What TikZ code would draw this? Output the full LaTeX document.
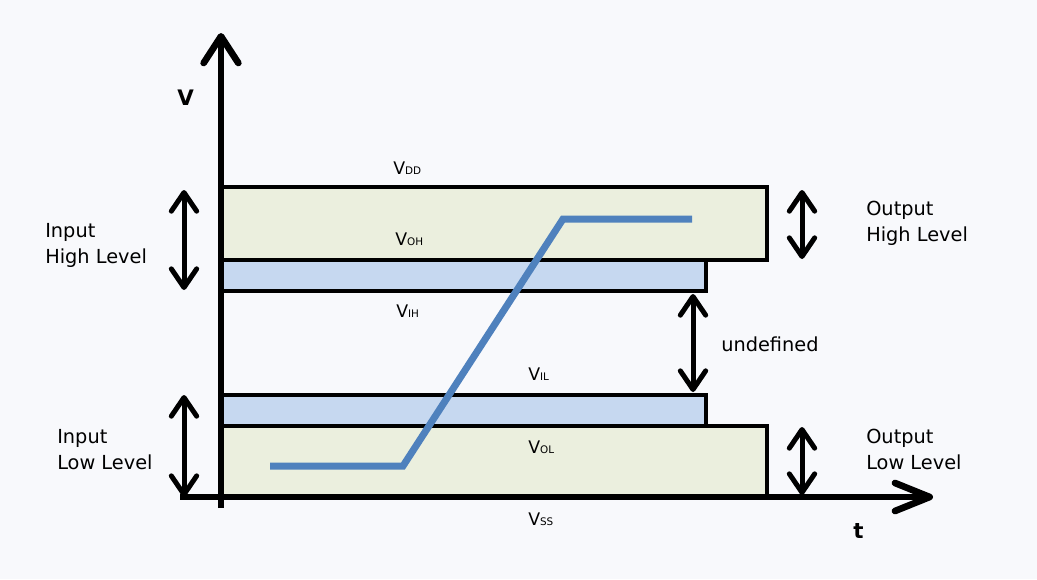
\documentclass[tikz,border=0pt]{standalone}
\usepackage{fontspec}
\setmainfont{DejaVu Sans}
\usetikzlibrary{arrows.meta}
\definecolor{bgcol}{HTML}{F8F9FC}
\definecolor{outband}{HTML}{EBEFDE}
\definecolor{inband}{HTML}{C6D8F0}
\definecolor{signal}{HTML}{4F81BD}
\tikzstyle{axis}=[line width=5pt]
\tikzstyle{band}=[draw=black,line width=2.5pt]
\tikzstyle{levelspan}=[{Straight Barb[length=14pt,width=19pt,round]}-{Straight Barb[length=14pt,width=19pt,round]},line width=3.75pt]
\tikzstyle{levelname}=[inner sep=0pt,font=\fontsize{14.5}{19.5}\selectfont,align=left]
\tikzstyle{voltage}=[anchor=base west,inner sep=0pt]
\tikzstyle{axislabel}=[anchor=base west,inner sep=0pt,font=\fontsize{16}{18}\selectfont\bfseries]
\newcommand{\volt}[1]{{\fontsize{13}{15}\selectfont V}{\fontsize{7.8}{9}\selectfont #1}}
\newcommand{\drawband}[4]{
  \pgfmathsetmacro{\bandtop}{#2}
  \pgfmathsetmacro{\bandbot}{#3}
  \pgfmathsetmacro{\bandright}{#4}
  \filldraw[band,fill=#1] (221,\bandtop) rectangle (\bandright,\bandbot);
}

\begin{document}
\begin{tikzpicture}[x=0.75pt,y=-0.75pt]
  \fill[bgcol] (0,0) rectangle (1037,579);
  \useasboundingbox (0,0) rectangle (1037,579);
  % bands
  \drawband{outband}{187}{260}{767}
  \drawband{inband}{260}{291}{706}
  \drawband{inband}{395}{426}{706}
  \drawband{outband}{426}{497}{767}
  % axes
  \coordinate (vbottom) at (221,508);
  \coordinate (vtop) at (221,33);
  \coordinate (tleft) at (180,497);
  \coordinate (tright) at (933,497);
  \draw[axis,-{Straight Barb[length=20pt,width=26pt,round]}] (vbottom) -- (vtop);
  \draw[axis,-{Straight Barb[length=26pt,width=21pt,round]}] (tleft) -- (tright);
  % signal
  \draw[signal,line width=5.25pt] (270,466) -- (403,466) -- (563,219) -- (692,219);
  % spans
  \coordinate (ih1) at (184,190); \coordinate (ih2) at (184,290);
  \coordinate (il1) at (184,395); \coordinate (il2) at (184,497);
  \coordinate (oh1) at (802,190); \coordinate (oh2) at (802,259);
  \coordinate (ol1) at (802,427); \coordinate (ol2) at (802,495);
  \coordinate (un1) at (693,294); \coordinate (un2) at (693,392);
  \foreach \s in {ih,il,oh,ol,un}
    \draw[levelspan] (\s1) -- (\s2);
  % labels
  \node[levelname,anchor=west] (inhigh) at (45,245) {Input\\High Level};
  \node[levelname,anchor=west] (inlow) at (57,450) {Input\\Low Level};
  \node[levelname,anchor=west] (outhigh) at (866,223) {Output\\High Level};
  \node[levelname,anchor=west] (outlow) at (866,449) {Output\\Low Level};
  \node[levelname,anchor=base west] (undef) at (721,351) {undefined};
  \node[voltage] (vdd) at (393,174) {\volt{DD}};
  \node[voltage] (voh) at (395,245) {\volt{OH}};
  \node[voltage] (vih) at (396,317) {\volt{IH}};
  \node[voltage] (vil) at (528,380) {\volt{IL}};
  \node[voltage] (vol) at (528,453) {\volt{OL}};
  \node[voltage] (vss) at (528,525) {\volt{SS}};
  \node[axislabel] (vlabel) at (177,105) {V};
  \node[axislabel] (tlabel) at (853,538) {t};
\end{tikzpicture}
\end{document}
